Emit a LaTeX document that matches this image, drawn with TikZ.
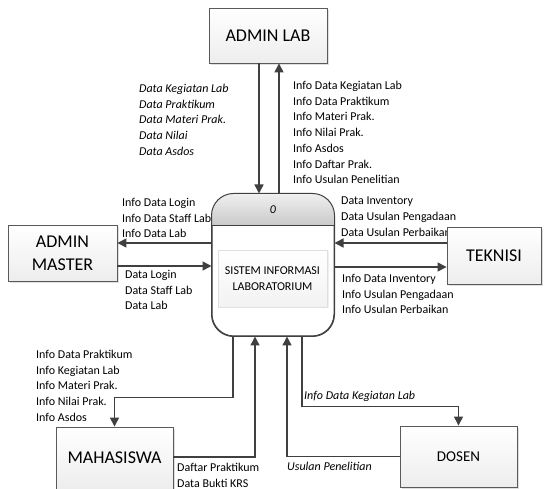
\documentclass[tikz,border=0pt]{standalone}
\usepackage{fontspec}
\setmainfont{Carlito}
\usetikzlibrary{arrows.meta,positioning,shadows}
\definecolor{dline}{HTML}{404040}
\definecolor{dbord}{HTML}{5A5A5A}
\tikzset{
  ext/.style={draw=dbord,line width=0.9pt,top color=white,bottom color=gray!14,align=center,inner sep=2pt,font=\fontsize{18}{23}\selectfont,drop shadow={opacity=0.25,shadow xshift=2pt,shadow yshift=-2pt}},
  procbox/.style={draw=dline,line width=1pt,fill=white,rounded corners=22pt,minimum width=122pt,minimum height=142pt},
  arr/.style={-{Triangle[length=9pt,width=9pt]},line width=1.4pt,draw=dline},
  lbl/.style={anchor=north west,align=left,inner sep=0pt,font=\fontsize{12}{15.7}\selectfont},
  ilbl/.style={lbl,font=\fontsize{12}{15.7}\selectfont\itshape},
}
\begin{document}
\begin{tikzpicture}[x=1pt,y=-1pt]
  \useasboundingbox[fill=white] (0,0) rectangle (544,489);
  % flow labels
  \node[ilbl] (lab_in) at (139,84) {Data Kegiatan Lab\\Data Praktikum\\Data Materi Prak.\\Data Nilai\\Data Asdos};
  \node[lbl] (lab_out) at (293,81) {Info Data Kegiatan Lab\\Info Data Praktikum\\Info Materi Prak.\\Info Nilai Prak.\\Info Asdos\\Info Daftar Prak.\\Info Usulan Penelitian};
  \node[lbl] (tek_in) at (341,197) {Data Inventory\\Data Usulan Pengadaan\\Data Usulan Perbaikan};
  \node[lbl] (tek_out) at (342,274) {Info Data Inventory\\Info Usulan Pengadaan\\Info Usulan Perbaikan};
  \node[lbl] (am_out) at (122,198) {Info Data Login\\Info Data Staff Lab\\Info Data Lab};
  \node[lbl] (am_in) at (125,270) {Data Login\\Data Staff Lab\\Data Lab};
  \node[lbl] (mhs_out) at (36,350) {Info Data Praktikum\\Info Kegiatan Lab\\Info Materi Prak.\\Info Nilai Prak.\\Info Asdos};
  \node[lbl] (mhs_in) at (177,463) {Daftar Praktikum\\Data Bukti KRS};
  \node[ilbl] (dsn_out) at (304,391) {Info Data Kegiatan Lab};
  \node[ilbl] (dsn_in) at (287,462) {Usulan Penelitian};
  % process
  \node[procbox] (proc) at (273,265) {};
  \begin{scope}
    \clip[rounded corners=22pt] (proc.north west) rectangle (proc.south east);
    \shade[top color=gray!12,bottom color=gray!42] (proc.north west) rectangle (proc.east |- 0,225);
  \end{scope}
  \draw[draw=dline,line width=1pt,rounded corners=22pt] (proc.north west) rectangle (proc.south east);
  \draw[draw=dline,line width=0.8pt] (proc.west |- 0,225) -- (proc.east |- 0,225);
  \node[font=\fontsize{12}{14}\selectfont\itshape] (pid) at (273,210) {0};
  \node[draw=gray!25,line width=0.5pt,top color=white,bottom color=gray!10,minimum width=109pt,minimum height=57pt,align=center,font=\fontsize{12}{16}\selectfont,drop shadow={opacity=0.12,shadow xshift=1.5pt,shadow yshift=-1.5pt}] (pname) at (272.5,278.5) {SISTEM INFORMASI\\LABORATORIUM};
  % external entities
  \node[ext,minimum width=118pt,minimum height=55pt] (adminlab) at (268,35.5) {ADMIN LAB};
  \node[ext,minimum width=94pt,minimum height=57pt] (teknisi) at (494,255.5) {TEKNISI};
  \node[ext,minimum width=109pt,minimum height=56pt] (adminmaster) at (62.5,253) {ADMIN\\MASTER};
  \node[ext,minimum width=117pt,minimum height=62pt] (mahasiswa) at (114.5,458) {MAHASISWA};
  \node[ext,minimum width=117pt,minimum height=61pt,font=\fontsize{15}{18}\selectfont] (dosen) at (458.5,456.5) {DOSEN};
  % flows
  \draw[arr] ([xshift=-9pt]adminlab.south) -- ([xshift=-9pt]adminlab.south |- proc.north);
  \draw[arr] ([xshift=11pt]adminlab.south |- proc.north) -- ([xshift=11pt]adminlab.south);
  \draw[arr] ([yshift=12.5pt]teknisi.west) -- ([yshift=12.5pt]teknisi.west -| proc.east);
  \draw[arr] ([yshift=-11.5pt]teknisi.west -| proc.east) -- ([yshift=-11.5pt]teknisi.west);
  \draw[arr] ([yshift=10pt]adminmaster.east -| proc.west) -- ([yshift=10pt]adminmaster.east);
  \draw[arr] ([yshift=-13pt]adminmaster.east) -- ([yshift=-13pt]adminmaster.east -| proc.west);
  \draw[arr] ([xshift=-40pt]proc.south) -- ++(0,61) -| (mahasiswa.north);
  \draw[arr] ([yshift=1pt]mahasiswa.east) -| ([xshift=-18pt]proc.south);
  \draw[arr] (dosen.west) -| ([xshift=14pt]proc.south);
  \draw[arr] ([xshift=29pt]proc.south) -- ++(0,70) -| (dosen.north);
\end{tikzpicture}
\end{document}
